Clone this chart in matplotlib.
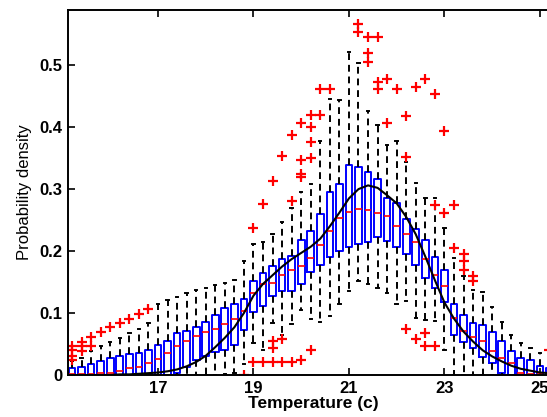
import numpy as np
import matplotlib
matplotlib.use('Agg')
import matplotlib.pyplot as plt

plt.rcParams['font.family'] = ['Liberation Sans', 'DejaVu Sans']

# box centres (temperature, c)
temps = [15.2, 15.4, 15.6, 15.8, 16.0, 16.2, 16.4, 16.6, 16.8, 17.0,
         17.2, 17.4, 17.6, 17.8, 18.0, 18.2, 18.4, 18.6, 18.8, 19.0,
         19.2, 19.4, 19.6, 19.8, 20.0, 20.2, 20.4, 20.6, 20.8, 21.0,
         21.2, 21.4, 21.6, 21.8, 22.0, 22.2, 22.4, 22.6, 22.8, 23.0,
         23.2, 23.4, 23.6, 23.8, 24.0, 24.2, 24.4, 24.6, 24.8, 25.0, 25.2]

q1 = [0.0, 0.0, 0.0, 0.0, 0.0, 0.0, 0.0, 0.0, 0.001, 0.0,
      0.0, 0.003, 0.013, 0.025, 0.031, 0.037, 0.040, 0.049, 0.072, 0.101,
      0.111, 0.128, 0.135, 0.135, 0.147, 0.167, 0.177, 0.190, 0.200, 0.207,
      0.212, 0.215, 0.222, 0.216, 0.207, 0.195, 0.178, 0.157, 0.141, 0.118,
      0.065, 0.054, 0.043, 0.029, 0.019, 0.004, 0.0, 0.0, 0.0, 0.0, 0.0]

medians = [0.001, 0.001, 0.002, 0.003, 0.004, 0.006, 0.011, 0.013, 0.020, 0.026,
           0.035, 0.046, 0.055, 0.063, 0.070, 0.075, 0.083, 0.091, 0.104, 0.133,
           0.147, 0.149, 0.161, 0.170, 0.176, 0.188, 0.210, 0.233, 0.254, 0.263,
           0.268, 0.266, 0.261, 0.256, 0.240, 0.228, 0.215, 0.187, 0.161, 0.144,
           0.092, 0.071, 0.061, 0.055, 0.038, 0.028, 0.019, 0.004, 0.002, 0.001, 0.001]

q3 = [0.011, 0.013, 0.018, 0.023, 0.027, 0.030, 0.034, 0.036, 0.040, 0.048,
      0.055, 0.067, 0.071, 0.077, 0.086, 0.097, 0.108, 0.115, 0.122, 0.152,
      0.164, 0.176, 0.187, 0.192, 0.218, 0.233, 0.259, 0.296, 0.308, 0.339,
      0.335, 0.328, 0.316, 0.285, 0.278, 0.252, 0.236, 0.218, 0.190, 0.169,
      0.114, 0.097, 0.084, 0.080, 0.069, 0.055, 0.039, 0.028, 0.025, 0.015, 0.012]

whisk_lo = [0.0, 0.0, 0.0, 0.0, 0.0, 0.0, 0.0, 0.0, 0.0, 0.0,
            0.0, 0.0, 0.0, 0.0, 0.0, 0.0, 0.002, 0.004, 0.018, 0.052,
            0.041, 0.084, 0.065, 0.083, 0.105, 0.091, 0.086, 0.095, 0.114, 0.135,
            0.152, 0.147, 0.140, 0.133, 0.115, 0.120, 0.092, 0.088, 0.087, 0.040,
            0.0, 0.0, 0.0, 0.0, 0.0, 0.0, 0.0, 0.0, 0.0, 0.0, 0.0]

whisk_hi = [0.022, 0.027, 0.038, 0.046, 0.054, 0.059, 0.068, 0.075, 0.084, 0.114,
            0.121, 0.126, 0.132, 0.137, 0.141, 0.145, 0.149, 0.153, 0.184, 0.212,
            0.215, 0.227, 0.247, 0.269, 0.296, 0.309, 0.378, 0.445, 0.443, 0.521,
            0.503, 0.426, 0.404, 0.371, 0.378, 0.344, 0.310, 0.285, 0.285, 0.237,
            0.188, 0.159, 0.137, 0.134, 0.110, 0.086, 0.065, 0.051, 0.043, 0.036, 0.028]

# outliers per box (same order as temps)
outliers = [[0.046, 0.040, 0.030, 0.025], [0.054, 0.046, 0.038], [0.062, 0.046],
            [0.070], [0.078], [0.084], [0.091], [0.099], [0.107], [],
            [], [], [], [], [], [], [], [], [0.0], [0.238, 0.021],
            [0.276, 0.021], [0.313, 0.055, 0.043, 0.021], [0.353, 0.058, 0.021],
            [0.387, 0.281, 0.021], [0.406, 0.347, 0.325, 0.320, 0.024],
            [0.419, 0.400, 0.376, 0.350, 0.041], [0.461, 0.419], [0.461], [], [],
            [0.567, 0.554], [0.546, 0.520, 0.505], [0.546, 0.473, 0.462],
            [0.478, 0.406], [0.462], [0.418, 0.352, 0.075], [0.464, 0.058],
            [0.478, 0.067, 0.047], [0.453, 0.274, 0.047], [0.394, 0.262],
            [0.274, 0.205], [0.195, 0.184, 0.169], [0.160, 0.152],
            [], [], [], [], [], [], [], [0.040]]

# fitted density curve, read at the box centres
fit_pdf = [0.0, 0.0, 0.0, 0.0, 0.0, 0.001, 0.001, 0.002, 0.003, 0.004,
           0.006, 0.009, 0.014, 0.021, 0.031, 0.045, 0.060, 0.077, 0.100, 0.128,
           0.147, 0.161, 0.175, 0.187, 0.197, 0.207, 0.220, 0.240, 0.262, 0.285,
           0.300, 0.306, 0.302, 0.290, 0.277, 0.255, 0.227, 0.191, 0.153, 0.117,
           0.091, 0.070, 0.054, 0.040, 0.030, 0.022, 0.015, 0.010, 0.007, 0.004, 0.003]

stats = []
for i in range(len(temps)):
    stats.append(dict(med=medians[i], q1=q1[i], q3=q3[i],
                      whislo=whisk_lo[i], whishi=whisk_hi[i], fliers=outliers[i]))

W, H = 547, 417
fig = plt.figure(figsize=(W / 100, H / 100), dpi=100)
ax = fig.add_axes([68 / W, 42 / H, (559 - 68) / W, 365 / H])

ax.bxp(stats, positions=temps, widths=0.14, capwidths=0.05, manage_ticks=False,
       boxprops=dict(color='#0000ff', linewidth=1.4),
       whiskerprops=dict(color='black', linewidth=1.4, linestyle=(0, (3.5, 2.5))),
       capprops=dict(color='black', linewidth=1.4),
       medianprops=dict(color='#ff0000', linewidth=1.2),
       flierprops=dict(marker='+', markeredgecolor='#ff0000', markersize=7,
                       markeredgewidth=1.6, linestyle='none'))

ax.plot(temps, fit_pdf, color='black', linewidth=1.5, zorder=5)

ax.set_xlim(15.115, 25.4)
ax.set_ylim(0, 0.589)
ax.set_xticks([17, 19, 21, 23, 25])
ax.set_yticks([0, 0.1, 0.2, 0.3, 0.4, 0.5])
ax.set_yticklabels(['0', '0.1', '0.2', '0.3', '0.4', '0.5'])
ax.tick_params(direction='in', length=5, width=1.2, labelsize=12, pad=4,
               top=True, right=True)
for lbl in ax.get_xticklabels() + ax.get_yticklabels():
    lbl.set_fontweight('bold')
for s in ax.spines.values():
    s.set_linewidth(1.4)

ax.set_xlabel('Temperature (c)', fontsize=12.5, fontweight='bold', labelpad=0)
ax.set_ylabel('Probability density', fontsize=12, labelpad=5)

fig.savefig('out.png', dpi=100)
